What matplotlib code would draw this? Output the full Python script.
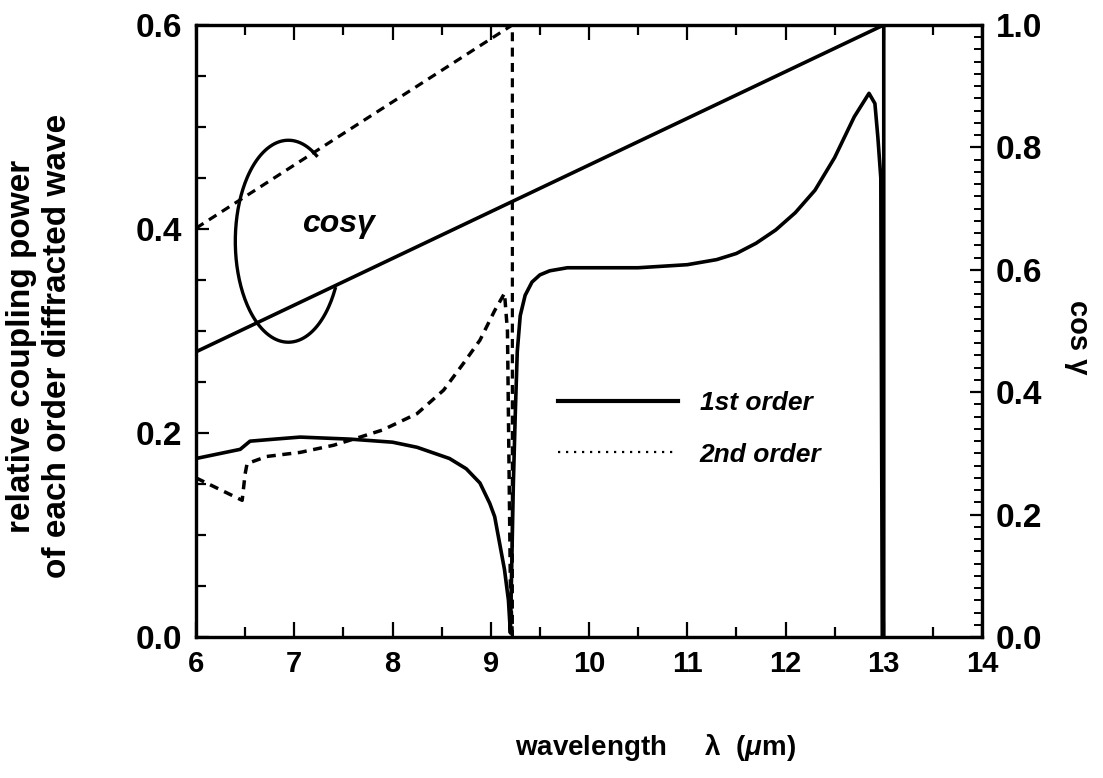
import numpy as np
import matplotlib
matplotlib.use("Agg")
import matplotlib.pyplot as plt
from matplotlib.lines import Line2D
from matplotlib.ticker import MultipleLocator, FormatStrFormatter

plt.rcParams['font.family'] = ['Liberation Sans', 'DejaVu Sans']
plt.rcParams['font.weight'] = 'bold'
plt.rcParams['axes.labelweight'] = 'bold'
plt.rcParams['mathtext.fontset'] = 'custom'
plt.rcParams['mathtext.rm'] = 'Liberation Sans:bold'
plt.rcParams['mathtext.it'] = 'Liberation Sans:italic:bold'

# first-order diffracted power (left axis)
lam_1st = [6.00, 6.25, 6.45, 6.50, 6.55, 6.80, 7.06, 7.57, 8.00, 8.25, 8.58,
           8.75, 8.89, 8.99, 9.04, 9.09, 9.14, 9.18, 9.20, 9.23, 9.25, 9.27,
           9.30, 9.35, 9.42, 9.50, 9.60, 9.78, 10.0, 10.5, 11.0, 11.3, 11.5,
           11.7, 11.9, 12.1, 12.3, 12.5, 12.7, 12.85, 12.91, 12.94, 12.97,
           12.985]
pow_1st = [0.175, 0.180, 0.184, 0.188, 0.192, 0.194, 0.196, 0.194, 0.191,
           0.186, 0.175, 0.165, 0.151, 0.131, 0.118, 0.092, 0.066, 0.036,
           0.004, 0.150, 0.220, 0.280, 0.315, 0.335, 0.348, 0.355, 0.359,
           0.362, 0.362, 0.362, 0.365, 0.370, 0.376, 0.386, 0.399, 0.416,
           0.438, 0.470, 0.510, 0.533, 0.523, 0.490, 0.450, 0.000]

# second-order diffracted power (left axis)
lam_2nd = [6.00, 6.47, 6.50, 6.52, 6.72, 7.06, 7.40, 7.67, 7.90, 8.25, 8.52,
           8.72, 8.89, 9.04, 9.14, 9.17, 9.20, 9.22]
pow_2nd = [0.156, 0.134, 0.160, 0.170, 0.177, 0.181, 0.188, 0.196, 0.203,
           0.219, 0.242, 0.268, 0.291, 0.320, 0.337, 0.300, 0.050, 0.000]

# diffraction angle cosines (right axis)
lam_cos1 = [6.0, 13.0, 13.0]
cos_1st = [0.466, 1.0, 0.0]
lam_cos2 = [6.0, 9.22, 9.22]
cos_2nd = [0.668, 1.0, 0.0]

x_ticks = [6, 7, 8, 9, 10, 11, 12, 13, 14]
left_ticks = [0.0, 0.2, 0.4, 0.6]
right_ticks = [0.0, 0.2, 0.4, 0.6, 0.8, 1.0]

fig = plt.figure(figsize=(11.03, 7.78), dpi=100)
ax = fig.add_axes([0.1777, 0.1812, 0.7126, 0.7867])
ax2 = ax.twinx()

lw = 2.6
ax.plot(lam_1st, pow_1st, color='black', lw=lw, solid_joinstyle='round')
l2, = ax.plot(lam_2nd, pow_2nd, color='black', lw=2.5)
l2.set_dashes((2.6, 1.9))

ax2.plot(lam_cos1, cos_1st, color='black', lw=lw)
lc2, = ax2.plot(lam_cos2, cos_2nd, color='black', lw=2.3)
lc2.set_dashes((2.8, 2.0))

ax.set_xlim(6, 14)
ax.set_ylim(0, 0.6)
ax2.set_ylim(0, 1.0)

ax.set_xticks(x_ticks)
ax.xaxis.set_minor_locator(MultipleLocator(0.5))
ax.set_yticks(left_ticks)
ax.yaxis.set_minor_locator(MultipleLocator(0.05))
ax.yaxis.set_major_formatter(FormatStrFormatter('%.1f'))
ax2.set_yticks(right_ticks)
ax2.yaxis.set_minor_locator(MultipleLocator(0.02))
ax2.yaxis.set_major_formatter(FormatStrFormatter('%.1f'))

ax.tick_params(axis='x', which='both', direction='in', top=True, bottom=True,
               labelsize=21, pad=9)
ax.tick_params(axis='x', which='major', length=11, width=1.6)
ax.tick_params(axis='x', which='minor', length=7, width=1.6)
ax.tick_params(axis='y', which='both', direction='in', left=True, right=False,
               labelsize=24, pad=10)
ax.tick_params(axis='y', which='major', length=9, width=1.6)
ax.tick_params(axis='y', which='minor', length=7, width=1.6)
ax2.tick_params(axis='y', which='both', direction='in', right=True,
                labelsize=24, pad=10)
ax2.tick_params(axis='y', which='major', length=9, width=1.6)
ax2.tick_params(axis='y', which='minor', length=6, width=1.4)

for a in (ax, ax2):
    for s in a.spines.values():
        s.set_linewidth(2.3)

ax.set_ylabel("relative coupling power\nof each order diffracted wave",
              fontsize=24, fontweight='bold', linespacing=1.2)
ax.yaxis.set_label_coords(-0.157, 0.475)
ax2.set_ylabel("cos γ", fontsize=21, fontweight='bold', rotation=-90,
               va='center')
ax2.yaxis.set_label_coords(1.122, 0.49)
ax.set_xlabel("wavelength     λ  ($\\mu$m)", fontsize=20, fontweight='bold',
              va='center')
ax.xaxis.set_label_coords(0.585, -0.181)

# open ellipse marking the cosine curves
t = np.linspace(np.deg2rad(58), np.deg2rad(332), 200)
ell_cx, ell_cy, ell_a, ell_b = 6.94, 0.388, 0.54, 0.099
ax.plot(ell_cx + ell_a * np.cos(t), ell_cy + ell_b * np.sin(t),
        color='black', lw=2.4)
ax.text(7.08, 0.405, "cosγ", fontsize=23, style='italic', fontweight='bold',
        ha='left', va='center')

handles = [Line2D([], [], color='black', lw=3.0),
           Line2D([], [], color='black', lw=1.6, linestyle=(0, (1.0, 2.6)))]
ax.legend(handles, ["1st order", "2nd order"], loc='upper left',
          bbox_to_anchor=(0.430, 0.441), frameon=False, handlelength=4.55,
          handletextpad=0.83, labelspacing=1.05,
          prop={'size': 19, 'style': 'italic', 'weight': 'bold'})

fig.savefig("out.png", dpi=100)
